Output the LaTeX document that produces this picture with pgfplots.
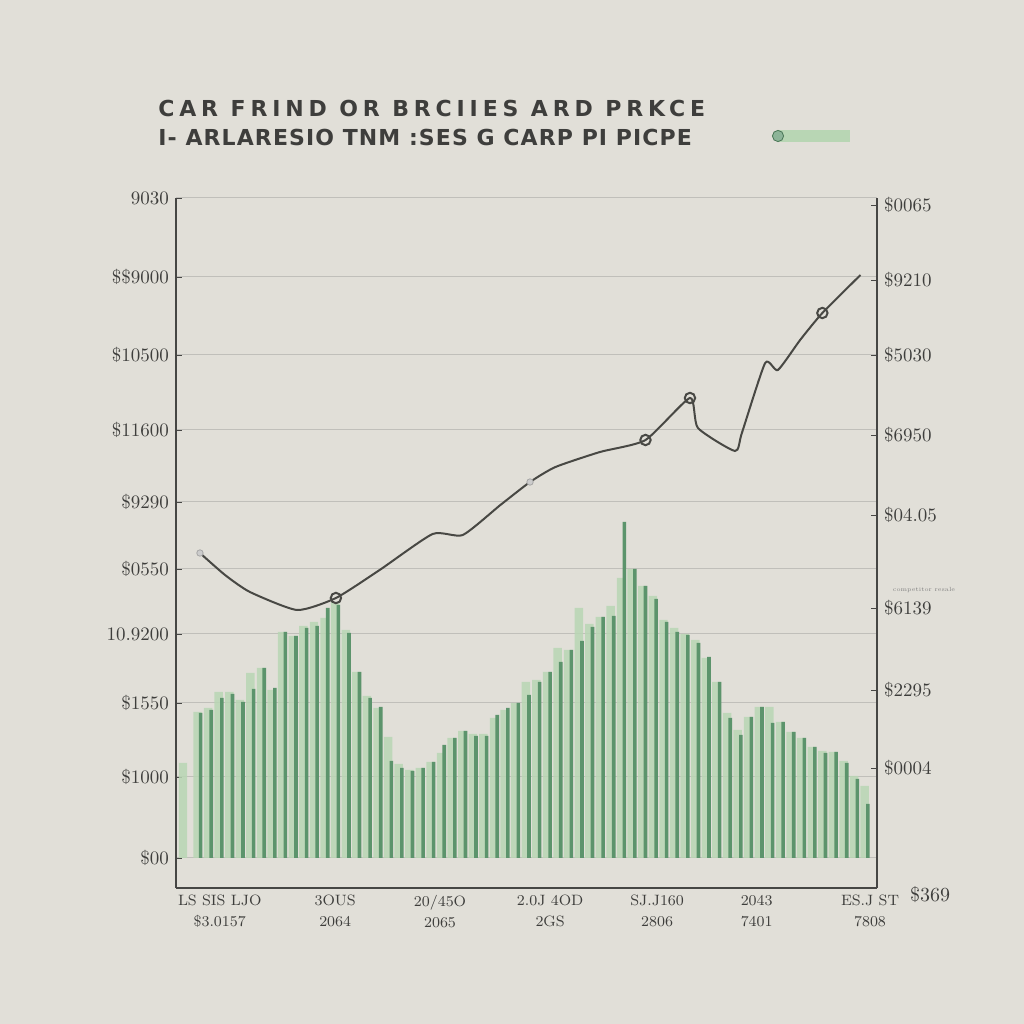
\documentclass[border=0pt]{standalone}
\usepackage{pgfplots}
\pgfplotsset{compat=1.18}
\usepackage{fontspec}
\newfontfamily\titlefont[LetterSpace=22]{DejaVu Sans}
\newfontfamily\titlefontb[LetterSpace=5]{DejaVu Sans}

\definecolor{bg}{RGB}{225,223,216}
\definecolor{gridgray}{RGB}{192,191,186}
\definecolor{axisgray}{RGB}{70,70,68}
\definecolor{darkgreen}{RGB}{92,148,108}
\definecolor{lightgreen}{RGB}{184,214,180}
\definecolor{linegray}{RGB}{72,72,68}
\definecolor{textgray}{RGB}{62,62,60}

% dark bars: index, height
\pgfplotstableread{
i h
1 145
2 148
3 160
4 164
5 156
6 169
7 190
8 170
9 226
10 222
11 230
12 232
13 250
14 253
15 225
16 186
17 160
18 151
19 97
20 90
21 87
22 90
23 96
24 113
25 120
26 127
27 122
28 122
29 143
30 150
31 155
32 163
33 176
34 186
35 196
36 208
37 217
38 231
39 241
40 242
41 336
42 289
43 272
44 259
45 236
46 226
47 223
48 215
49 201
50 176
51 140
52 123
53 141
54 151
55 135
56 136
57 126
58 120
59 111
60 105
61 106
62 95
63 79
64 54
}\darkbars

% light bars: index, height
\pgfplotstableread{
i h
-0.37 95
1 146
2 150
3 166
4 166
5 158
6 185
7 190
8 168
9 226
10 222
11 232
12 236
13 240
14 256
15 228
16 186
17 162
18 150
19 121
20 94
21 88
22 90
23 96
24 105
25 120
26 127
27 124
28 124
29 140
30 148
31 155
32 176
33 178
34 186
35 210
36 208
37 250
38 234
39 241
40 252
41 280
42 289
43 272
44 262
45 238
46 230
47 224
48 218
49 200
50 176
51 145
52 128
53 141
54 151
55 151
56 136
57 126
58 120
59 111
60 107
61 106
62 97
63 82
64 72
}\lightbars

% price line
\pgfplotstableread{
x y
0.93 305
3.3 283
5.65 266
10.1 248
13.77 260
17.9 288
22.9 324
25.75 323
29.3 353
32.1 376
34.5 391
38.7 406
43.0 418
47.2 460
47.95 430
51.45 407
52.1 425
54.3 495
55.5 488
57.6 518
59.7 545
63.3 583
}\priceline

\begin{document}
\begin{tikzpicture}
\fill[bg] (0,0) rectangle (512pt,512pt);

% title
\node[anchor=west, text=textgray, inner sep=0pt] at (79pt,458pt)
  {\titlefont\bfseries\fontsize{11}{13}\selectfont CAR FRIND OR BRCIIES ARD PRKCE};
\node[anchor=west, text=textgray, inner sep=0pt] at (79pt,443.5pt)
  {\titlefontb\bfseries\fontsize{11}{13}\selectfont I- ARLARESIO TNM :SES G CARP PI PICPE};

% legend
\fill[lightgreen] (388.5pt,441pt) rectangle (425pt,447pt);
\filldraw[fill=darkgreen!70, draw=darkgreen!80!black, line width=0.4pt] (389pt,444pt) circle (2.8pt);

\begin{axis}[
    at={(88pt,68pt)}, anchor=south west,
    scale only axis,
    width=350.5pt, height=345pt,
    xmin=-1.33, xmax=64.86,
    ymin=-30, ymax=660,
    axis x line*=bottom,
    axis y line*=left,
    axis line style={axisgray, line width=0.8pt, -},
    ymajorgrids,
    grid style={gridgray, line width=0.5pt},
    ytick={0,81,155,224,289,356,428,503,581,660},
    yticklabels={\$00,\$1000,\$1550,10.9200,\$0550,\$9290,\$11600,\$10500,\$\$9000,9030},
    yticklabel style={font=\fontsize{9.5}{11}\selectfont, text=textgray},
    ytick style={axisgray},
    major tick length=3pt,
    xtick={2.8,13.7,23.6,34.0,44.1,53.5,64.2},
    xticklabels={{LS SIS LJO\\\$3.0157},{3OUS\\2064},{20/45O\\2065},{2.0J 4OD\\2GS},{SJ.J160\\2806},{2043\\7401},{ES.J ST\\7808}},
    xticklabel style={align=center, font=\fontsize{7.5}{10.5}\selectfont, text=textgray},
    xtick style={draw=none},
    /pgf/number format/assume math mode=true,
    clip=false,
]
\addplot[ybar, bar width=0.8, bar shift=-0.3, fill=lightgreen, draw=none, opacity=0.85]
    table[x=i, y=h] {\lightbars};
\addplot[ybar, bar width=0.34, bar shift=0, fill=darkgreen, draw=none]
    table[x=i, y=h] {\darkbars};
\addplot[linegray, line width=1pt, smooth, tension=0.35, mark=none]
    table[x=x, y=y] {\priceline};
\addplot[only marks, mark=o, mark size=2.6pt, mark options={draw=linegray, fill=bg, line width=1pt}]
    coordinates {(13.77,260) (43.0,418) (47.2,460) (59.7,545)};
\addplot[only marks, mark=*, mark size=1.6pt, mark options={draw=gray!70, fill=gray!40}]
    coordinates {(0.93,305) (32.1,376)};
\end{axis}

\begin{axis}[
    at={(88pt,68pt)}, anchor=south west,
    scale only axis,
    width=350.5pt, height=345pt,
    xmin=-1.33, xmax=64.86,
    ymin=-30, ymax=660,
    axis x line=none,
    axis y line*=right,
    axis line style={axisgray, line width=0.8pt, -},
    ytick={90,168,250,343,423,503,578,653},
    yticklabels={\$0004,\$2295,\$6139,\$04.05,\$6950,\$5030,\$9210,\$0065},
    yticklabel style={font=\fontsize{9.5}{11}\selectfont, text=textgray},
    ytick style={axisgray},
    major tick length=3pt,
    /pgf/number format/assume math mode=true,
]
\end{axis}

\node[text=textgray, font=\fontsize{10}{12}\selectfont] at (465pt,64.5pt) {\$369};
\node[text=gray, font=\fontsize{3}{4}\selectfont] at (462pt,217pt) {competitor resale};
\end{tikzpicture}
\end{document}
